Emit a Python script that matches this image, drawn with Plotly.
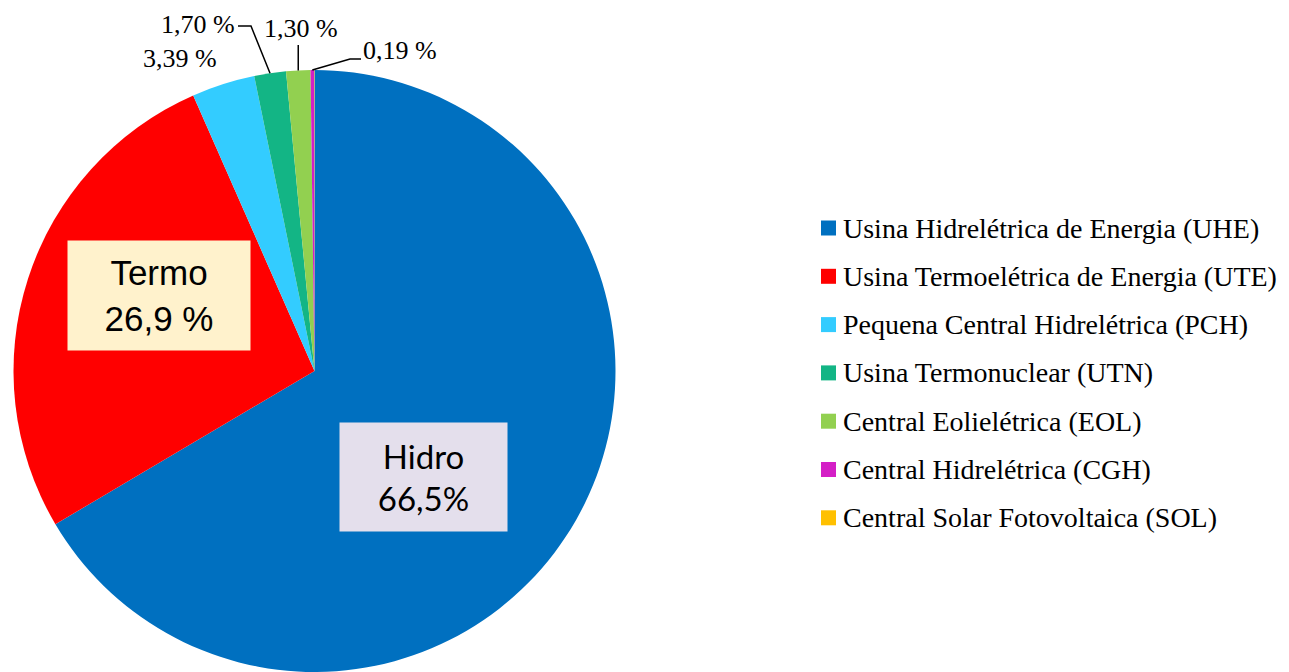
import math
import plotly.graph_objects as go

# ---- data ----
labels = [
    "Usina Hidrelétrica de Energia (UHE)",
    "Usina Termoelétrica de Energia (UTE)",
    "Pequena Central Hidrelétrica (PCH)",
    "Usina Termonuclear (UTN)",
    "Central Eolielétrica (EOL)",
    "Central Hidrelétrica (CGH)",
    "Central Solar Fotovoltaica (SOL)",
]
values = [66.5, 26.9, 3.39, 1.70, 1.30, 0.19, 0.02]
value_texts = ["Hidro<br>66,5%", "Termo<br>26,9 %", "3,39 %", "1,70 %", "1,30 %", "0,19 %", ""]
colors = ["#0070C0", "#FF0000", "#33CCFF", "#13B585", "#92D050", "#D41FC6", "#FFC000"]

OFF = 8  # page body margin in the browser
FW, FH = 1281, 664
CX, CY, R = 314.5, 371.0, 301.0  # screen coords

def px(x):
    return (x - OFF) / FW

def py(y):
    return 1 - (y - OFF) / FH

fig = go.Figure()
fig.add_trace(go.Pie(
    labels=labels, values=values, sort=False, direction="clockwise", rotation=0,
    marker=dict(colors=colors, line=dict(width=0)),
    textinfo="none", showlegend=False,
    domain=dict(x=[px(CX - R), px(CX + R)], y=[max(0, py(CY + R)), py(CY - R)]),
))

# angle (clockwise from 12 o'clock) of each slice midpoint
total = sum(values)
mids = []
cum = 0.0
for v in values:
    mids.append((cum + v / 2) / total * 2 * math.pi)
    cum += v

def edge(i):
    a = mids[i]
    return CX + R * math.sin(a), CY - R * math.cos(a)

annotations = []
shapes = []

# big inside labels
annotations.append(dict(
    x=px(423.5), y=py(477), xref="paper", yref="paper", text=value_texts[0],
    xanchor="center", yanchor="middle",
    showarrow=False, font=dict(family="Lato, Open Sans, sans-serif", size=33, color="black"),
    bgcolor="#E4DFEC", width=167, height=108, borderpad=0, align="center",
))
annotations.append(dict(
    x=px(159), y=py(295.5), xref="paper", yref="paper", text=value_texts[1],
    xanchor="center", yanchor="middle",
    showarrow=False, font=dict(family="Liberation Sans, Arial, sans-serif", size=35, color="black"),
    bgcolor="#FFF2CC", width=182, height=109, borderpad=0, align="center",
))

serif = "Liberation Serif, Times New Roman, serif"
lab_font = dict(family=serif, size=26, color="black")
leg_font = dict(family=serif, size=28, color="black")

# outside labels (screen px)
out_pos = {2: (179.5, 59), 3: (198, 25), 4: (301, 28), 5: (400, 50)}
for i, (x, y) in out_pos.items():
    annotations.append(dict(x=px(x), y=py(y), xref="paper", yref="paper",
                            xanchor="center", yanchor="middle",
                            text=value_texts[i], showarrow=False, font=lab_font))

# leader lines
x3, y3 = edge(3)
shapes.append(dict(type="path", xref="paper", yref="paper",
                   path=f"M {px(238)},{py(26)} L {px(251)},{py(26)} L {px(x3)},{py(y3)}",
                   line=dict(color="black", width=1.5)))
x4, y4 = edge(4)
shapes.append(dict(type="line", xref="paper", yref="paper",
                   x0=px(x4), y0=py(45), x1=px(x4), y1=py(y4),
                   line=dict(color="black", width=1.5)))
x5, y5 = edge(5)
shapes.append(dict(type="path", xref="paper", yref="paper",
                   path=f"M {px(361)},{py(59)} L {px(350)},{py(59)} L {px(x5)},{py(y5)}",
                   line=dict(color="black", width=1.5)))

# manual legend
leg_y0, leg_dy = 228.0, 48.3
for i, (lab, c) in enumerate(zip(labels, colors)):
    yc = leg_y0 + i * leg_dy
    shapes.append(dict(type="rect", xref="paper", yref="paper",
                       x0=px(821), x1=px(836), y0=py(yc - 7.5), y1=py(yc + 7.5),
                       fillcolor=c, line=dict(width=0)))
    annotations.append(dict(x=px(841), y=py(yc), xref="paper", yref="paper",
                            text=lab, showarrow=False, xanchor="left", yanchor="middle",
                            font=leg_font))

fig.update_layout(
    width=FW, height=FH, margin=dict(l=0, r=0, t=0, b=0),
    paper_bgcolor="white", plot_bgcolor="white",
    annotations=annotations, shapes=shapes, showlegend=False,
)

fig.write_html("out.html")
